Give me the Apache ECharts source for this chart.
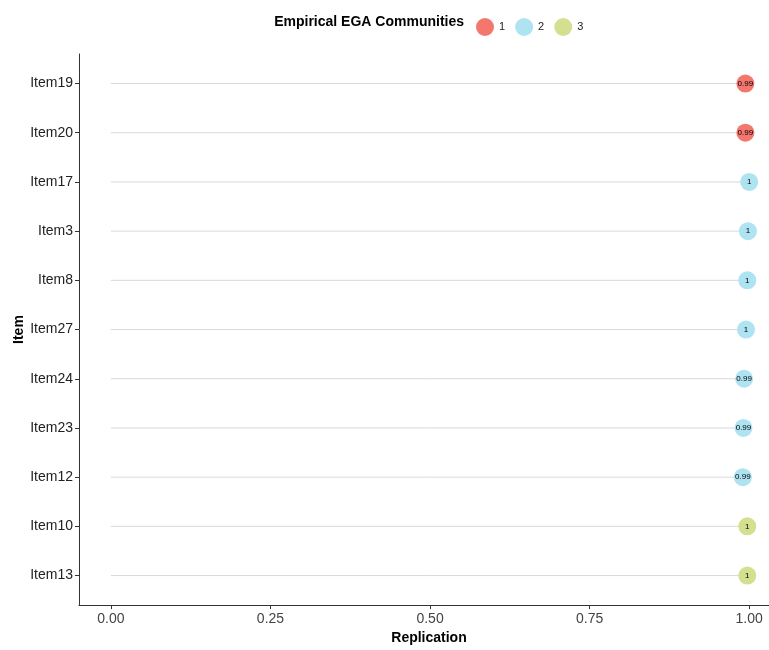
<!DOCTYPE html>
<html>
<head>
<meta charset="utf-8">
<script src="https://cdn.jsdelivr.net/npm/echarts@6/dist/echarts.min.js"></script>
<style>
  html, body { margin: 0; padding: 0; background: #fff; }
  #chart { width: 769px; height: 650px; }
</style>
</head>
<body>
<div id="chart"></div>
<script>
// Items in display order (top to bottom)
const items = ['Item19', 'Item20', 'Item17', 'Item3', 'Item8', 'Item27',
               'Item24', 'Item23', 'Item12', 'Item10', 'Item13'];
// Replication proportion for each item
const replication = [0.994, 0.994, 1.0, 0.998, 0.997, 0.995,
                     0.992, 0.991, 0.990, 0.997, 0.997];
// Empirical EGA community of each item
const community = [1, 1, 2, 2, 2, 2, 2, 2, 2, 3, 3];
const communityNames = ['1', '2', '3'];
const communityColors = ['#F3776D', '#AEE3F2', '#D4DF8F'];
const xTicks = [0, 0.25, 0.5, 0.75, 1];

const FONT = '"Liberation Sans", Arial, sans-serif';
const fmtLabel = v => String(Math.round(v * 100) / 100);

const chart = echarts.init(document.getElementById('chart'), null, { renderer: 'canvas' });

const segmentData = items.map((name, i) => [replication[i], i]);

const pointSeries = communityNames.map((cname, c) => ({
  name: cname,
  type: 'scatter',
  symbol: 'circle',
  symbolSize: 18,
  itemStyle: { color: communityColors[c], opacity: 1 },
  label: {
    show: true,
    position: 'inside',
    formatter: p => fmtLabel(p.value[0]),
    color: '#000',
    fontSize: 8,
    fontFamily: FONT
  },
  z: 3,
  data: items.map((name, i) => community[i] === c + 1 ? [replication[i], i] : null)
               .filter(d => d !== null)
}));

const option = {
  backgroundColor: '#fff',
  animation: false,
  graphic: [{
    type: 'text',
    right: 769 - 464,
    top: 15,
    style: {
      text: 'Empirical EGA Communities',
      font: 'bold 14px ' + FONT,
      fill: '#000'
    }
  }],
  legend: {
    left: 471,
    top: 13,
    itemWidth: 18,
    itemHeight: 18,
    itemGap: 10,
    icon: 'circle',
    data: communityNames,
    textStyle: { fontFamily: FONT, fontSize: 11, color: '#222' }
  },
  // the panel runs past the right edge of the canvas, so the x range stops at the edge
  grid: { left: 79, right: 0, top: 54, bottom: 42, containLabel: false },
  xAxis: {
    type: 'value',
    min: -0.05,
    max: 1.031,
    name: 'Replication',
    nameLocation: 'middle',
    nameGap: 25,
    nameTextStyle: { fontFamily: FONT, fontSize: 14, fontWeight: 'bold', color: '#000', padding: [0, 0, 0, 10] },
    axisLine: { show: true, onZero: false, lineStyle: { color: '#333', width: 1 } },
    axisTick: { show: true, length: 4, lineStyle: { color: '#333' }, customValues: xTicks },
    axisLabel: {
      customValues: xTicks,
      formatter: v => v.toFixed(2),
      fontFamily: FONT, fontSize: 14, color: '#444', margin: 7
    },
    splitLine: { show: false }
  },
  yAxis: {
    type: 'value',
    inverse: true,
    min: -0.6,
    max: items.length - 0.4,
    name: 'Item',
    nameLocation: 'middle',
    nameGap: 53,
    nameMoveOverlap: false,
    nameRotate: 90,
    nameTextStyle: { fontFamily: FONT, fontSize: 14, fontWeight: 'bold', color: '#000' },
    axisLine: { show: true, onZero: false, lineStyle: { color: '#333', width: 1 } },
    axisTick: { show: true, length: 4, lineStyle: { color: '#333' }, customValues: items.map((d, i) => i) },
    axisLabel: {
      customValues: items.map((d, i) => i),
      formatter: v => items[Math.round(v)] || '',
      fontFamily: FONT, fontSize: 14, color: '#222', margin: 6
    },
    splitLine: { show: false }
  },
  series: [
    {
      name: 'segments',
      type: 'custom',
      z: 1,
      silent: true,
      renderItem: (params, api) => {
        const start = api.coord([0, api.value(1)]);
        const end = api.coord([api.value(0), api.value(1)]);
        return {
          type: 'line',
          shape: { x1: start[0], y1: start[1], x2: end[0], y2: end[1] },
          style: { stroke: '#d9d9d9', lineWidth: 1 }
        };
      },
      encode: { x: 0, y: 1 },
      data: segmentData
    },
    ...pointSeries
  ]
};

chart.setOption(option);
</script>
</body>
</html>
